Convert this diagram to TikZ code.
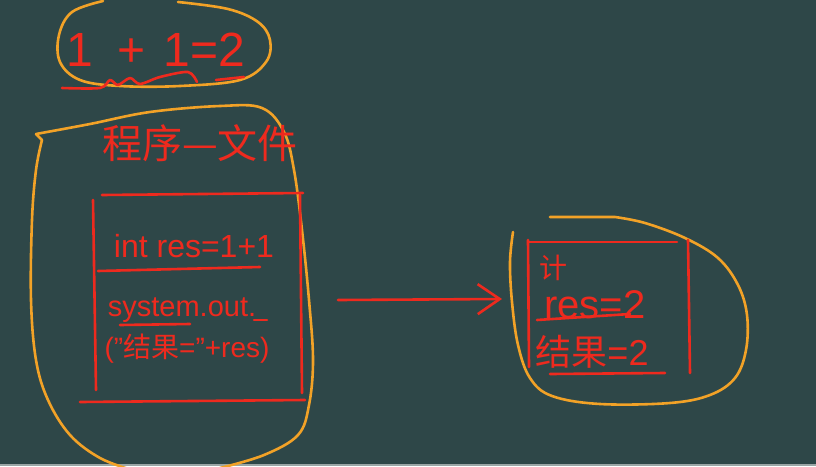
\documentclass[tikz,border=0pt]{standalone}
\usepackage{fontspec}
\setmainfont{Liberation Sans}
\newfontfamily\cjk{Noto Sans CJK SC}
\usetikzlibrary{arrows.meta}
\definecolor{board}{HTML}{2E4748}
\definecolor{chalkred}{HTML}{EE2A1E}
\definecolor{chalkorange}{HTML}{F2A227}
\definecolor{stripgray}{HTML}{9AA6A6}
\tikzset{
  loop/.style={draw=chalkorange, line width=2.6pt, line cap=round, line join=round},
  stroke/.style={draw=chalkred, line width=2.6pt, line cap=round, line join=round},
  chalk/.style={text=chalkred, inner sep=0pt, anchor=center},
}
\begin{document}
\begin{tikzpicture}[x=1pt,y=-1pt]
\fill[board] (0,0) rectangle (816,466);
\fill[stripgray] (0,463.5) rectangle (816,466);
\useasboundingbox (0,0) rectangle (816,466);

% top loop with 1+1=2
\draw[loop] plot[smooth,tension=0.6] coordinates {(103,1) (72,12) (59,35) (60,62) (80,80) (120,86) (180,86) (240,80) (266,62) (270,40) (258,22) (228,9) (178,2)};
\node[chalk, font=\fontsize{48}{48}\selectfont] (eq) at (156,50) {1\hspace{24pt}+\hspace{18pt}1=2};
\draw[stroke] plot[smooth,tension=0.5] coordinates {(62,88) (100,88) (110,80) (118,85) (130,78) (140,84) (160,77) (188,72) (197,82)};
\draw[stroke] (216,80) -- (244,77);

% left program shape
\draw[loop] plot[smooth,tension=0.6] coordinates {(132,470) (100,458) (70,435) (48,400) (36,360) (31,300) (32,220) (36,170) (42,140)} -- (36,134);
\draw[loop] plot[smooth,tension=0.6] coordinates {(36,134) (90,124) (150,112) (220,106) (262,108) (284,132) (294,170) (302,230) (309,300) (313,360) (309,405) (298,435) (264,455) (220,468)};
\node[chalk, font=\cjk\fontsize{40}{40}\selectfont] (title) at (200,143) {程序—文件};

% left code box
\draw[stroke] (102,195) -- (303,193);
\draw[stroke] (93,200) -- (96,390);
\draw[stroke] (300,195) -- (302,393);
\draw[stroke] (80,402) -- (305,400);
\node[chalk, font=\fontsize{32}{32}\selectfont] (code1) at (194,246) {int res=1+1};
\draw[stroke] (98,271) -- (260,267);
\node[chalk, font=\fontsize{29}{29}\selectfont] (code2) at (182,310) {system.out.};
\draw[stroke] (120,325) -- (190,324);
\draw[stroke] (254,320) -- (267,320);
\node[chalk, font=\fontsize{28}{28}\selectfont] (code3) at (187,349) {("{\cjk 结果}="+res)};

% arrow
\coordinate (arrowstart) at (338,300);
\coordinate (arrowend) at (502,299);
\draw[stroke, -{Straight Barb[length=22pt,width=30pt,line width=2.6pt]}] (arrowstart) -- (arrowend);

% right memory shape
\draw[loop] plot[smooth,tension=0.6] coordinates {(513,232) (510,262) (512,302) (518,345) (530,378) (552,396) (600,404) (670,403) (710,395) (735,378) (746,350) (747,315) (738,285) (718,258) (685,238) (645,223) (615,217)} -- (550,217);
\draw[stroke] (528,242) -- (677,242);
\draw[stroke] (528,240) -- (529,367);
\draw[stroke] (688,240) -- (690,373);
\draw[stroke] (550,374) -- (665,373);
\node[chalk, font=\cjk\fontsize{28}{28}\selectfont] (ji) at (553,268) {计};
\node[chalk, font=\fontsize{40}{40}\selectfont] (res) at (595,305) {res=2};
\draw[stroke] (537,320) -- (630,314);
\node[chalk, font=\fontsize{36}{36}\selectfont] (result) at (592,352) {{\cjk 结果}=2};
\end{tikzpicture}
\end{document}
